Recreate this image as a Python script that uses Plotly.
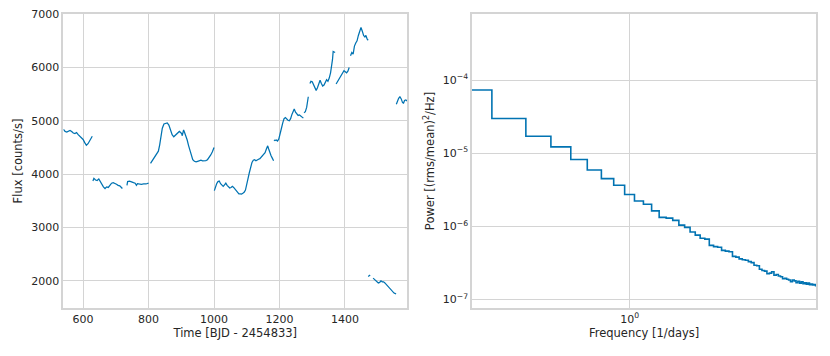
import numpy as np
import plotly.graph_objects as go

# light curve segments (time in BJD - 2454833, flux in counts/s)
seg_time = [
    [540, 545, 550, 555, 560, 565, 570, 575, 580, 585, 590, 595, 600, 605, 610, 615, 620, 625, 628],
    [630, 633, 638, 643, 648, 652, 657, 662, 667, 672, 677, 682, 687, 692, 697, 702, 707, 712, 717, 720],
    [734, 736, 742, 748, 754, 759, 763, 766, 772, 778, 785, 792, 800],
    [806, 812, 818, 824, 830, 834, 838, 842, 847, 852, 857, 862, 867, 872, 877, 882, 888, 894, 898, 901,
     903, 905, 907, 910, 914, 918, 922, 926, 930, 935, 940, 945, 950, 955, 960, 965, 970, 975, 980, 985,
     990, 995, 1000],
    [1001, 1004, 1008, 1012, 1016, 1020, 1024, 1028, 1032, 1036, 1040, 1044, 1048, 1052, 1056, 1060,
     1064, 1068, 1072, 1076, 1080, 1084, 1088, 1092, 1096, 1100, 1104, 1108, 1112, 1116, 1120, 1124,
     1128, 1132, 1136, 1140, 1144, 1148, 1152, 1156, 1160, 1164, 1167, 1170, 1174, 1178, 1182],
    [1183, 1186, 1190, 1194, 1198, 1202, 1206, 1210, 1214, 1218, 1222, 1226, 1230, 1234, 1238, 1242,
     1245, 1249, 1253, 1257, 1261, 1265, 1269, 1273],
    [1275, 1279, 1283, 1286, 1288],
    [1293, 1296, 1300, 1304, 1308, 1312, 1316, 1320, 1324, 1328, 1332, 1336, 1340, 1344, 1348, 1352,
     1356, 1359, 1362, 1364, 1367, 1370],
    [1373, 1377, 1381, 1385, 1389, 1393, 1397, 1401, 1405, 1409, 1413],
    [1417, 1421, 1425, 1429, 1433, 1437, 1441, 1445, 1449, 1453, 1457, 1461, 1464, 1468, 1471],
    [1471, 1474, 1477],
    [1486, 1490, 1494, 1498, 1502, 1506, 1510, 1514, 1518, 1522, 1526, 1530, 1534, 1538, 1542, 1546,
     1550, 1554, 1556],
    [1557, 1560, 1564, 1568, 1572, 1576, 1579, 1582, 1586, 1590],
]
seg_flux = [
    [4840, 4800, 4790, 4810, 4820, 4800, 4770, 4760, 4780, 4740, 4710, 4690, 4650, 4590, 4540, 4570, 4620, 4680, 4710],
    [3870, 3920, 3890, 3880, 3910, 3860, 3810, 3760, 3730, 3760, 3750, 3800, 3830, 3840, 3830, 3810, 3790, 3780, 3750, 3730],
    [3790, 3860, 3870, 3850, 3840, 3830, 3790, 3820, 3810, 3810, 3815, 3815, 3830],
    [4200, 4260, 4310, 4360, 4430, 4550, 4720, 4860, 4940, 4950, 4960, 4920, 4820, 4740, 4700, 4730, 4760, 4800, 4780, 4760,
     4720, 4800, 4830, 4780, 4720, 4640, 4540, 4440, 4340, 4270, 4240, 4230, 4240, 4250, 4260, 4250, 4250, 4255, 4270, 4310,
     4360, 4420, 4500],
    [3690, 3750, 3820, 3860, 3870, 3820, 3790, 3770, 3800, 3830, 3790, 3760, 3740, 3750, 3770, 3750,
     3720, 3690, 3650, 3630, 3630, 3625, 3640, 3660, 3700, 3790, 3920, 4030, 4130, 4220, 4260, 4270,
     4250, 4270, 4280, 4290, 4320, 4330, 4360, 4400, 4470, 4530, 4470, 4400, 4350, 4300, 4250],
    [4640, 4630, 4640, 4620, 4660, 4740, 4860, 4960, 5040, 5060, 5030, 5010, 5000, 5040, 5120, 5200,
     5220, 5160, 5130, 5100, 5110, 5090, 5060, 5050],
    [5150, 5170, 5250, 5350, 5450],
    [5700, 5740, 5730, 5680, 5620, 5570, 5620, 5700, 5760, 5700, 5650, 5670, 5720, 5770, 5740, 5800,
     5900, 5990, 6150, 6300, 6290, 6280],
    [5690, 5730, 5780, 5830, 5860, 5910, 5940, 5920, 5900, 5930, 6000],
    [6220, 6280, 6250, 6400, 6460, 6500, 6600, 6700, 6750, 6680, 6600, 6570, 6600, 6530, 6510],
    [2080, 2100, 2110],
    [2050, 2030, 2010, 1990, 1960, 1970, 2000, 1980, 1980, 1960, 1930, 1900, 1870, 1840, 1810, 1790,
     1770, 1760, 1750],
    [5310, 5370, 5420, 5450, 5410, 5340, 5330, 5380, 5390, 5370],
]

# power spectrum (frequency in 1/days)
freq = [0.2, 0.3, 0.4, 0.5, 0.6, 0.7, 0.8, 0.9, 1.0, 1.1, 1.2, 1.3, 1.4, 1.5, 1.6, 1.7, 1.8, 1.9,
        2.0, 2.1, 2.2, 2.3, 2.4, 2.5, 2.6, 2.7, 2.8, 2.9, 3.0, 3.1, 3.2, 3.3, 3.4, 3.5, 3.6, 3.7,
        3.8, 3.9, 4.0, 4.1, 4.2, 4.3, 4.4, 4.5, 4.6, 4.7, 4.8, 4.9, 5.0, 5.1, 5.2, 5.3, 5.4, 5.5,
        5.6, 5.7, 5.8, 5.9, 6.0, 6.1, 6.2, 6.3, 6.4, 6.5, 6.6, 6.7]
power = [7.3e-5, 2.99e-5, 1.71e-5, 1.22e-5, 8.2e-6, 5.9e-6, 4.5e-6, 3.66e-6, 2.73e-6, 2.23e-6,
         2.01e-6, 1.63e-6, 1.33e-6, 1.30e-6, 1.21e-6, 1.04e-6, 9.7e-7, 8.4e-7, 7.6e-7, 6.9e-7,
         6.7e-7, 5.5e-7, 5.3e-7, 5.2e-7, 4.7e-7, 4.6e-7, 4.5e-7, 3.9e-7, 3.8e-7, 3.6e-7,
         3.5e-7, 3.45e-7, 3.3e-7, 3.2e-7, 2.95e-7, 2.9e-7, 2.6e-7, 2.5e-7, 2.45e-7, 2.25e-7,
         2.3e-7, 2.4e-7, 2.15e-7, 2.2e-7, 2.1e-7, 2.05e-7, 1.93e-7, 1.95e-7, 1.9e-7, 1.85e-7,
         1.75e-7, 1.85e-7, 1.8e-7, 1.7e-7, 1.78e-7, 1.68e-7, 1.75e-7, 1.65e-7, 1.7e-7, 1.62e-7,
         1.68e-7, 1.6e-7, 1.63e-7, 1.58e-7, 1.6e-7, 1.55e-7]

flux_ticks = [2000, 3000, 4000, 5000, 6000, 7000]
time_ticks = [600, 800, 1000, 1200, 1400]
power_ticks = [1e-7, 1e-6, 1e-5, 1e-4]
power_ticktext = ['10<sup>−7</sup>', '10<sup>−6</sup>', '10<sup>−5</sup>', '10<sup>−4</sup>']

BLUE = '#0173b2'
GRID = '#d4d4d4'
TXT = '#262626'
W, H = 830, 356
OFF = 8  # page body margin seen in the screenshot

# join segments with gaps
t_all, f_all = [], []
for t, f in zip(seg_time, seg_flux):
    t_all += list(t) + [None]
    f_all += list(f) + [None]

fig = go.Figure()
fig.add_trace(go.Scatter(x=t_all, y=f_all, mode='lines', connectgaps=False,
                         line=dict(color=BLUE, width=1.25), showlegend=False,
                         xaxis='x', yaxis='y'))
fig.add_trace(go.Scatter(x=freq, y=power, mode='lines', line_shape='hvh',
                         line=dict(color=BLUE, width=1.6), showlegend=False,
                         xaxis='x2', yaxis='y2'))

axis_common = dict(showgrid=True, gridcolor=GRID, gridwidth=1.2, showline=True,
                   linecolor=GRID, linewidth=1.5, mirror=True, ticks='', zeroline=False,
                   automargin=False, ticklabeloverflow='allow',
                   tickfont=dict(size=11, color=TXT), title_font=dict(size=11.5, color=TXT))

fig.update_layout(
    width=W, height=H,
    paper_bgcolor='white', plot_bgcolor='white',
    font=dict(family='DejaVu Sans', color=TXT),
    margin=dict(l=0, r=0, t=14 - OFF, b=H - (307.7 - OFF), autoexpand=False),
    xaxis=dict(domain=[(63.3 - OFF) / W, (407.3 - OFF) / W], range=[539.5, 1590.5], tickvals=time_ticks,
               title=dict(text='Time [BJD - 2454833]', standoff=4), anchor='y', **axis_common),
    yaxis=dict(range=[1490, 7002], tickvals=flux_ticks,
               title=dict(text='Flux [counts/s]', standoff=6), anchor='x', **axis_common),
    xaxis2=dict(domain=[(472 - OFF) / W, (816.3 - OFF) / W], type='log', range=[np.log10(0.2), np.log10(6.7)],
                tickvals=[1], ticktext=['10<sup>0</sup>'],
                title=dict(text='Frequency [1/days]', standoff=4), anchor='y2', **axis_common),
    yaxis2=dict(type='log', range=[-7.115, -3.097], tickvals=power_ticks, ticktext=power_ticktext,
                title=dict(text='Power [(rms/mean)<sup>2</sup>/Hz]', standoff=6), anchor='x2',
                **axis_common),
)

fig.write_html('out.html')
